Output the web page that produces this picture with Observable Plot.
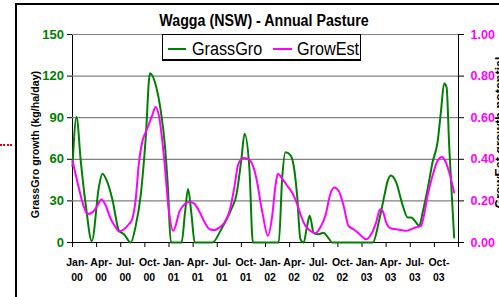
<!DOCTYPE html>
<html><head><meta charset="utf-8">
<script src="https://cdn.jsdelivr.net/npm/d3@7"></script>
<script src="https://cdn.jsdelivr.net/npm/@observablehq/plot@0.6"></script>
<style>
html,body{margin:0;padding:0;background:#fff;}
#wrap{position:relative;width:499px;height:297px;overflow:hidden;background:#fff;font-family:"Liberation Sans",Arial,sans-serif;color:#000;}
#wrap svg{position:absolute;left:0;top:0;}
.frame{position:absolute;left:15px;top:3px;width:700px;height:500px;border:2px solid #000;box-sizing:border-box;}
.reddots{position:absolute;left:0;top:144px;width:12px;height:0;border-top:2px dotted #e00000;}
.title{position:absolute;left:263.5px;top:12.5px;font-size:16px;font-weight:bold;line-height:16px;white-space:nowrap;transform:translateX(-50%) scaleX(0.89);}
.legend{position:absolute;left:162px;top:34px;width:199px;height:27px;border:1px solid #000;border-bottom-width:2px;box-sizing:border-box;background:#fff;}
.lg-line{position:absolute;height:2px;top:12.5px;}
.lg-text{position:absolute;top:4.8px;font-size:18px;line-height:18px;white-space:nowrap;transform:scaleX(0.9);transform-origin:left center;}
</style></head>
<body>
<div id="wrap">
  <div class="frame"></div>
  <div class="reddots"></div>
  <div id="plots"></div>
  <div class="title" id="title"></div>
  <div class="legend">
    <div class="lg-line" style="left:5px;width:18px;background:#008000"></div>
    <div class="lg-text" id="lg1" style="left:29px"></div>
    <div class="lg-line" style="left:110px;width:19px;background:#ff00ff"></div>
    <div class="lg-text" id="lg2" style="left:134px"></div>
  </div>
</div>
<script>
// ---- Data ----
const titleText = "Wagga (NSW) - Annual Pasture";
const seriesNames = ["GrassGro", "GrowEst"];
const yLeftTitle = "GrassGro growth (kg/ha/day)";
const yRightTitle = "GrowEst growth potential";

// months since Jan 2000
const tickMonths = [0, 3, 6, 9, 12, 15, 18, 21, 24, 27, 30, 33, 36, 39, 42, 45, 48];
const labelMonths = [0, 3, 6, 9, 12, 15, 18, 21, 24, 27, 30, 33, 36, 39, 42, 45];
const xLabels = ["Jan-\n00","Apr-\n00","Jul-\n00","Oct-\n00","Jan-\n01","Apr-\n01","Jul-\n01","Oct-\n01",
                 "Jan-\n02","Apr-\n02","Jul-\n02","Oct-\n02","Jan-\n03","Apr-\n03","Jul-\n03","Oct-\n03"];
const leftTicks = [0, 30, 60, 90, 120, 150];
const rightTicks = [0, 0.2, 0.4, 0.6, 0.8, 1.0];

// GrassGro growth (kg/ha/day)
const ggMonth = [0, 0.5, 1.04, 1.66, 2.4, 3.31, 3.72, 4.3, 4.96, 5.79, 6.4, 7.24, 7.86, 8.48, 9.1, 9.63, 10.33, 10.95, 11.49, 11.86, 12.23,
  13.56, 14.0, 14.37, 14.8, 15.2, 17.4, 18.5, 19.75, 20.37, 21.0, 21.4, 22.0, 22.43,
  25.65, 26.07, 26.48, 27.1, 27.5, 27.93, 28.34, 28.75, 29.17, 29.5, 29.99, 30.6, 31.2, 31.85, 32.27,
  37.35, 38.17, 38.79, 39.2, 39.6, 40.24, 41.07, 41.69, 42.1, 42.71, 43.12, 43.54, 44.16, 44.78, 45.4, 45.81, 46.22, 46.52, 46.84, 47.17, 47.46];
const ggValue = [55, 90.5, 58, 26.5, 1, 41, 49.5, 44, 31, 8.4, 6, 0, 12, 34, 75, 122, 114, 96, 70, 40, 0,
  0, 22, 38.6, 20, 0, 0, 9.6, 24, 34, 60, 78.5, 53, 0,
  0, 46, 65, 63, 55.5, 34, 2.4, 0, 12, 19.3, 7, 6, 7, 3, 0,
  0, 17, 34, 44.6, 48.3, 43.5, 26.5, 18, 18, 14.5, 12, 21.7, 38.6, 58, 72.5, 94, 114.7, 112, 70, 34, 3.6];

// GrowEst growth potential (0-1)
const geMonth = [0, 0.62, 1.24, 1.86, 2.48, 3.1, 3.59, 4.14, 4.76, 5.38, 5.79, 6.41, 7.03, 7.43, 7.86, 8.27, 8.67, 9.29, 9.91, 10.33, 10.74, 11.36, 11.98,
  12.52, 13.35, 13.97, 14.58, 15.2, 15.82, 16.44, 17.06, 17.68, 18.3, 18.92, 19.54, 20.16, 20.57, 21.19, 21.81, 22.43, 23.05, 23.38, 23.67,
  24.29, 24.83, 25.24, 25.53, 26.07, 26.69, 27.31, 27.93, 28.34, 28.96, 29.58, 30.2, 30.82, 31.44, 32.06, 32.55, 33.09, 33.71, 34.32, 34.94, 35.56, 35.9,
  36.52, 37.14, 37.76, 38.25, 38.59, 39.0, 39.62, 40.24, 40.86, 41.48, 42.1, 42.72, 43.34, 43.74, 44.16, 44.78, 45.4, 45.94, 46.34, 46.84, 47.46];
const geValue = [0.393, 0.29, 0.193, 0.137, 0.145, 0.177, 0.207, 0.177, 0.113, 0.073, 0.053, 0.064, 0.089, 0.113, 0.209, 0.387, 0.483, 0.547, 0.611, 0.652, 0.611, 0.419, 0.153,
  0.056, 0.153, 0.185, 0.196, 0.185, 0.145, 0.097, 0.064, 0.06, 0.073, 0.097, 0.153, 0.273, 0.37, 0.406, 0.403, 0.37, 0.273, 0.193, 0.133,
  0.032, 0.127, 0.273, 0.33, 0.307, 0.273, 0.24, 0.185, 0.137, 0.08, 0.056, 0.045, 0.073, 0.127, 0.233, 0.265, 0.249, 0.177, 0.08, 0.064, 0.045, 0.032,
  0.016, 0.04, 0.097, 0.16, 0.15, 0.097, 0.067, 0.064, 0.06, 0.056, 0.064, 0.073, 0.08, 0.137, 0.227, 0.322, 0.393, 0.411, 0.393, 0.338, 0.24];

// ---- Build ----
document.getElementById("title").textContent = titleText;
document.getElementById("lg1").textContent = seriesNames[0];
document.getElementById("lg2").textContent = seriesNames[1];

const gg = ggMonth.map((m, i) => ({m, v: ggValue[i]}));
const ge = geMonth.map((m, i) => ({m, v: geValue[i]}));
const font = '"Liberation Sans", Arial, sans-serif';
const common = {width: 499, height: 297, marginLeft: 72, marginRight: 41, marginTop: 34, marginBottom: 55};
const style = {background: "transparent", fontFamily: font, fontSize: "12px", overflow: "visible", color: "#000"};

const p1 = Plot.plot({
  ...common, style,
  x: {domain: [0, 48], ticks: tickMonths, tickSize: 5, tickFormat: () => "", line: true, label: null},
  y: {domain: [0, 150], ticks: leftTicks, tickSize: 5, tickFormat: () => "", line: true, label: null},
  marks: [
    Plot.ruleY(leftTicks.filter(d => d > 0), {stroke: "#808080", strokeWidth: 1.2}),
    Plot.line(gg, {x: "m", y: "v", stroke: "#008000", strokeWidth: 2, curve: "monotone-x"}),
    Plot.text(leftTicks, {y: d => d, text: d => String(d), frameAnchor: "left", textAnchor: "end", dx: -8.5,
      fill: "#008000", fontWeight: "bold", fontSize: 13, ariaLabel: "ytl"}),
    Plot.text(xLabels, {x: (d, i) => labelMonths[i], text: d => d, frameAnchor: "bottom", lineAnchor: "top",
      dy: 13, dx: 4.5, fontWeight: "bold", fontSize: 10.5, lineHeight: 1.43, ariaLabel: "xtl"}),
    Plot.text([yLeftTitle], {text: d => d, frameAnchor: "left", textAnchor: "middle", lineAnchor: "middle", rotate: -90, dx: -37, dy: 6,
      fontWeight: "bold", fontSize: 10.7, ariaLabel: "ylt"})
  ]
});

const p2 = Plot.plot({
  ...common, style,
  x: {domain: [0, 48], axis: null},
  y: {domain: [0, 1], axis: "right", ticks: rightTicks, tickSize: 5, tickFormat: () => "", line: true, label: null},
  marks: [
    Plot.line(ge, {x: "m", y: "v", stroke: "#ff00ff", strokeWidth: 2, curve: "monotone-x"}),
    Plot.text(rightTicks, {y: d => d, text: d => d.toFixed(2), frameAnchor: "right", textAnchor: "start", dx: 12,
      fill: "#ff00ff", fontWeight: "bold", fontSize: 12.5, ariaLabel: "ytr"}),
    Plot.text([yRightTitle], {text: d => d, frameAnchor: "right", textAnchor: "middle", lineAnchor: "middle", rotate: -90, dx: 41.5, dy: -6,
      fontWeight: "bold", fontSize: 12.5, ariaLabel: "yrt"})
  ]
});

const host = document.getElementById("plots");
host.appendChild(p1);
host.appendChild(p2);

function squeeze(svg, label, sx, sy) {
  svg.querySelectorAll(`g[aria-label="${label}"] text`).forEach(t => {
    let tr = t.getAttribute("transform");
    if (!tr) {
      const x = +(t.getAttribute("x") || 0), y = +(t.getAttribute("y") || 0);
      t.removeAttribute("x"); t.removeAttribute("y");
      tr = `translate(${x},${y})`;
    }
    t.setAttribute("transform", tr + ` scale(${sx},${sy})`);
  });
}
squeeze(p1, "ytl", 0.92, 1);
squeeze(p1, "xtl", 0.8, 1);
squeeze(p1, "ylt", 1, 0.88);
squeeze(p2, "ytr", 0.83, 1);
squeeze(p2, "yrt", 1, 0.88);
</script>
</body></html>
